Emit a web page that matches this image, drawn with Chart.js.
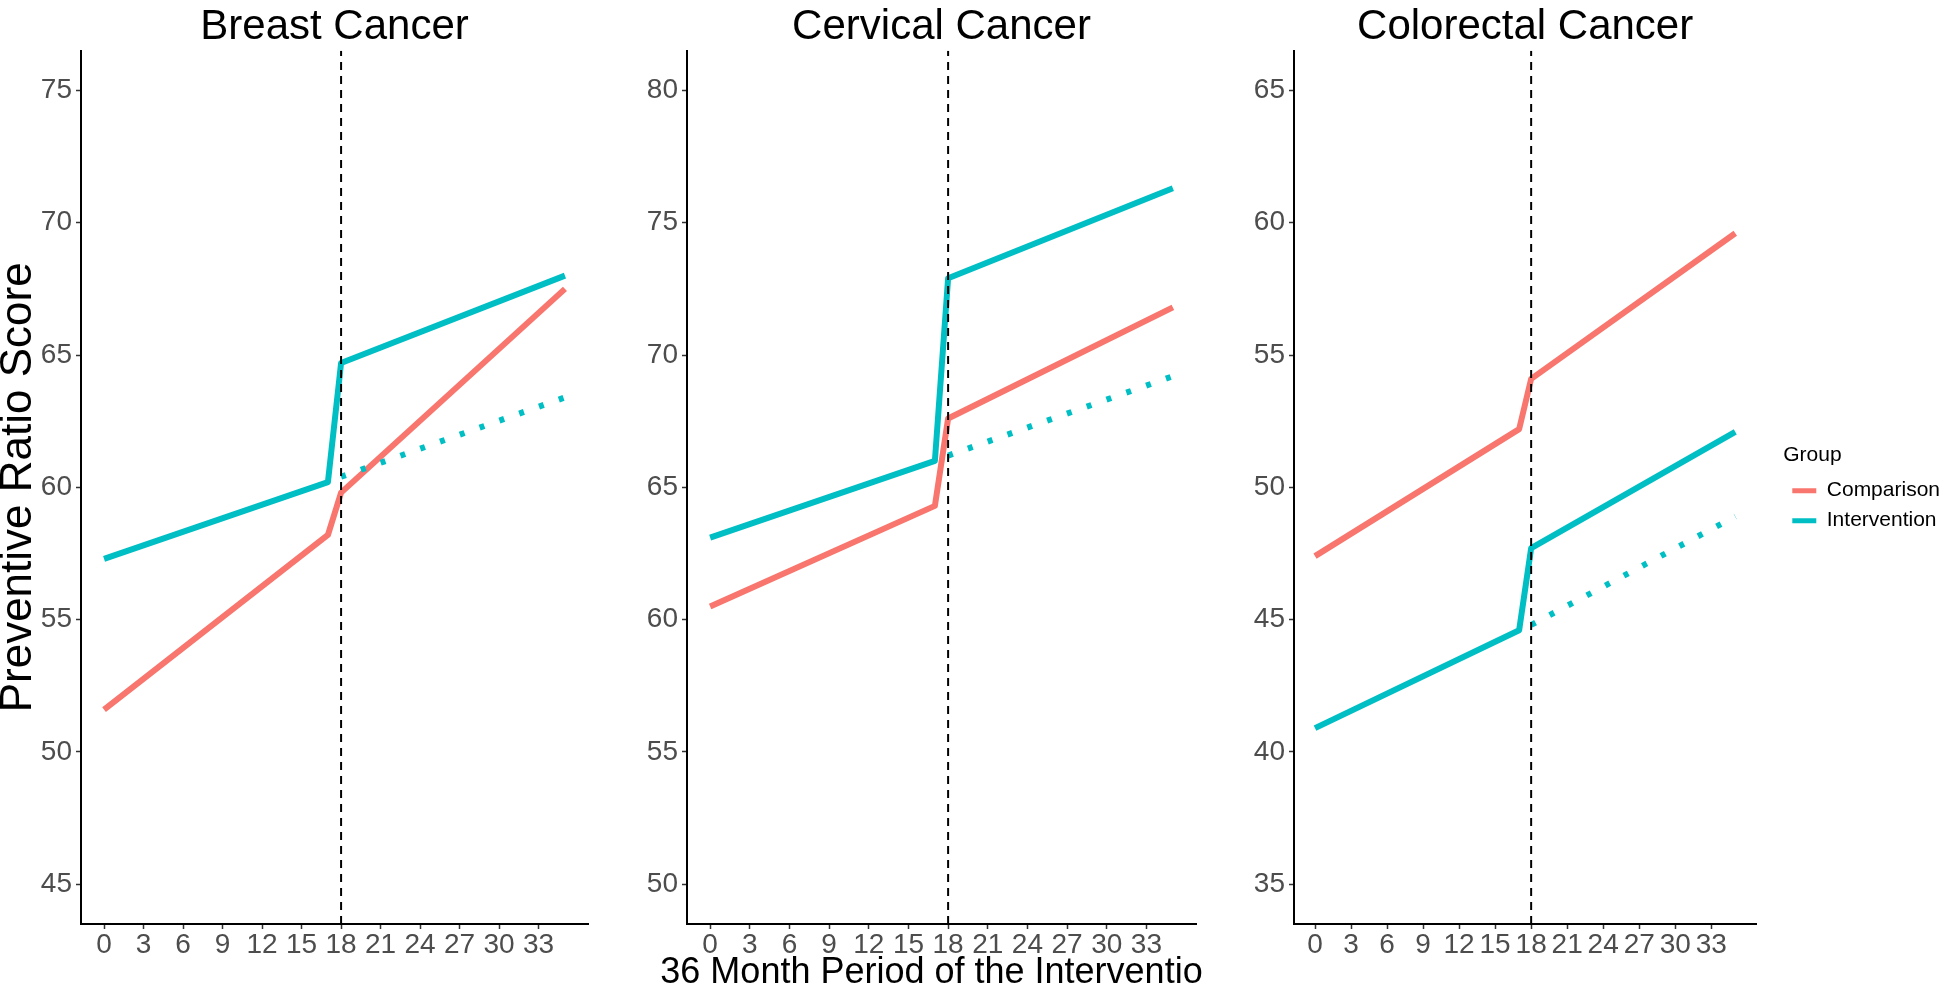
<!DOCTYPE html>
<html>
<head>
<meta charset="utf-8">
<title>Preventive Ratio Score</title>
<style>
  body { margin: 0; width: 1946px; height: 994px; overflow: hidden; background: #fff; position: relative; }
  canvas { position: absolute; top: 0; }
</style>
</head>
<body>
<canvas id="breast" width="600" height="994" style="left:0px"></canvas>
<canvas id="cervical" width="603" height="994" style="left:600px"></canvas>
<canvas id="colorectal" width="747" height="994" style="left:1203px"></canvas>
<script src="https://cdn.jsdelivr.net/npm/chart.js"></script>
<script>
// data
const groups = ['Comparison', 'Intervention'];
const groupColors = ['#F8766D', '#00BFC4'];
const months = [0, 17, 18, 35];
const trendMonths = [18, 35];
const monthTicks = [0, 3, 6, 9, 12, 15, 18, 21, 24, 27, 30, 33];
const interventionStart = 18;

const breastComparison = [51.6, 58.2, 59.8, 67.5];
const breastIntervention = [57.3, 60.2, 64.7, 68.0];
const breastTrend = [60.4, 63.4];
const breastTicks = [45, 50, 55, 60, 65, 70, 75];

const cervicalComparison = [60.5, 64.3, 67.6, 71.8];
const cervicalIntervention = [63.1, 66.0, 72.9, 76.3];
const cervicalTrend = [66.2, 69.2];
const cervicalTicks = [50, 55, 60, 65, 70, 75, 80];

const colorectalComparison = [47.4, 52.2, 54.1, 59.6];
const colorectalIntervention = [40.9, 44.6, 47.7, 52.1];
const colorectalTrend = [44.8, 48.9];
const colorectalTicks = [35, 40, 45, 50, 55, 60, 65];

const FONT = '"Liberation Sans", Arial, Helvetica, sans-serif';
Chart.defaults.font.family = FONT;
Chart.defaults.animation = false;

function points(xs, ys) {
    return xs.map((x, i) => ({x: x, y: ys[i]}));
}

// x axis title of the middle panel, drawn without squeezing so it gets cut at the panel edge
const xTitle = {
    id: 'xTitle',
    afterDraw(chart, args, opts) {
        if (!opts.text) return;
        const a = chart.chartArea;
        const ctx = chart.ctx;
        ctx.save();
        ctx.font = opts.size + 'px ' + FONT;
        ctx.fillStyle = '#000';
        ctx.textAlign = 'center';
        ctx.textBaseline = 'alphabetic';
        ctx.fillText(opts.text, (a.left + a.right) / 2, opts.y);
        ctx.restore();
    }
};

function makePanel(id, title, comparison, intervention, trend, yTicks, p) {
    const ySpan = yTicks[yTicks.length - 1] - yTicks[0];
    const yMin = yTicks[0] - 0.05 * ySpan;
    const yMax = yTicks[yTicks.length - 1] + 0.05 * ySpan;
    const xSpan = months[months.length - 1] - months[0];

    const tickOpts = {autoSkip: false, maxRotation: 0, color: '#4D4D4D', font: {size: 28, lineHeight: 1}, padding: 4};
    const gridOpts = {display: true, drawOnChartArea: false, tickLength: 5, tickColor: '#333333', tickWidth: 1.5};
    const borderOpts = {display: true, color: '#000000', width: 2};

    const scales = {
        x: {
            type: 'linear',
            min: months[0] - 0.05 * xSpan,
            max: months[months.length - 1] + 0.05 * xSpan,
            afterBuildTicks: s => { s.ticks = monthTicks.map(v => ({value: v})); },
            afterFit: s => { s.height = 70; },
            ticks: Object.assign({}, tickOpts, {padding: 2}),
            grid: gridOpts,
            border: borderOpts
        },
        y: {
            type: 'linear',
            min: yMin,
            max: yMax,
            afterBuildTicks: s => { s.ticks = yTicks.map(v => ({value: v})); },
            afterFit: s => { s.width = p.yWidth; },
            ticks: tickOpts,
            grid: gridOpts,
            border: borderOpts,
            title: {
                display: !!p.yTitle,
                text: p.yTitle || '',
                color: '#000',
                font: {size: 44, lineHeight: 0.85},
                padding: 0
            }
        }
    };
    if (p.spacer) {
        // empty gap between the panel and the legend
        scales.gap = {
            type: 'linear', position: 'right', display: true,
            afterFit: s => { s.width = p.spacer; },
            ticks: {display: false}, grid: {display: false}, border: {display: false}
        };
    }

    const common = {pointRadius: 0, tension: 0, fill: false, borderCapStyle: 'butt', borderJoinStyle: 'round'};

    return new Chart(document.getElementById(id), {
        type: 'line',
        data: {
            datasets: [
                Object.assign({}, common, {
                    label: 'Month 18',
                    data: [{x: interventionStart, y: yMin}, {x: interventionStart, y: yMax}],
                    borderColor: '#000', borderWidth: 2, borderDash: [8, 6], order: 0
                }),
                Object.assign({}, common, {
                    label: groups[0], data: points(months, comparison),
                    borderColor: groupColors[0], backgroundColor: groupColors[0], borderWidth: 6, order: 2
                }),
                Object.assign({}, common, {
                    label: groups[1], data: points(months, intervention),
                    borderColor: groupColors[1], backgroundColor: groupColors[1], borderWidth: 6, order: 1
                }),
                Object.assign({}, common, {
                    label: 'Intervention trend', data: points(trendMonths, trend),
                    borderColor: groupColors[1], backgroundColor: groupColors[1], borderWidth: 6,
                    borderDash: [5, 16], order: 1
                })
            ]
        },
        options: {
            responsive: false,
            events: [],
            layout: {padding: {left: 0, right: p.padRight, top: 0, bottom: 0}},
            scales: scales,
            plugins: {
                title: {
                    display: true, text: title, color: '#000', fullSize: false,
                    font: {size: 42, weight: 'normal', lineHeight: 0.85},
                    padding: {top: 10, bottom: 5}
                },
                legend: {
                    display: !!p.legend,
                    position: 'right',
                    align: 'start',
                    maxWidth: 300,
                    labels: {
                        boxWidth: 24, boxHeight: 5, padding: 9, color: '#000', font: {size: 21},
                        generateLabels: () => groups.map((g, i) => ({
                            text: g, fillStyle: groupColors[i], strokeStyle: groupColors[i],
                            lineWidth: 0, hidden: false, datasetIndex: i + 1
                        }))
                    },
                    title: {
                        display: true, text: 'Group', color: '#000', position: 'start',
                        font: {size: 21}, padding: {top: 445, bottom: 1}
                    }
                },
                tooltip: {enabled: false},
                xTitle: {text: p.xTitle || '', size: 36, y: 983}
            }
        },
        plugins: [xTitle]
    });
}

makePanel('breast', 'Breast Cancer', breastComparison, breastIntervention, breastTrend, breastTicks,
    {yWidth: 81, padRight: 12, yTitle: 'Preventive Ratio Score'});
makePanel('cervical', 'Cervical Cancer', cervicalComparison, cervicalIntervention, cervicalTrend, cervicalTicks,
    {yWidth: 87, padRight: 7, xTitle: '36 Month Period of the Intervention'});
makePanel('colorectal', 'Colorectal Cancer', colorectalComparison, colorectalIntervention, colorectalTrend, colorectalTicks,
    {yWidth: 91, padRight: 0, spacer: 27, legend: true});
</script>
</body>
</html>
